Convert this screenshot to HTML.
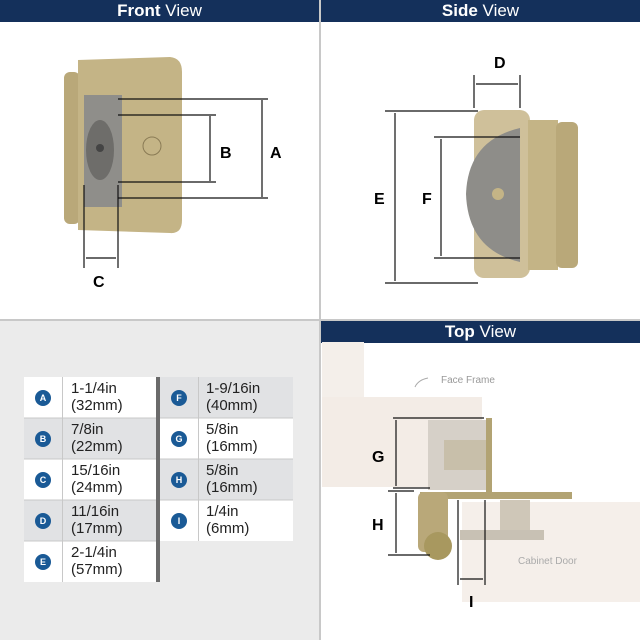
<!DOCTYPE html><html><head><style>
body{margin:0;width:640px;height:640px;overflow:hidden;background:#fff;font-family:"Liberation Sans",sans-serif;position:relative}
.h{position:absolute;height:22px;background:#14305b;color:#fff;font-size:17px;text-align:center;line-height:22px}
.h b{font-weight:bold}
.t{position:absolute;font-size:15px;line-height:17px;color:#222}
.c{position:absolute;width:16px;height:16px;border-radius:50%;background:#1a5a96;color:#fff;font-size:9px;font-weight:bold;text-align:center;line-height:16px}
</style></head><body>
<div style="position:absolute;left:0;top:320px;width:320px;height:320px;background:#ebebeb"></div>
<div style="position:absolute;left:319px;top:0;width:2px;height:640px;background:#c8c8c8"></div>
<div style="position:absolute;left:0;top:319px;width:640px;height:2px;background:#c8c8c8"></div>
<div class="h" style="left:0;top:0;width:319px"><b>Front</b> View</div>
<div class="h" style="left:321px;top:0;width:319px"><b>Side</b> View</div>
<div class="h" style="left:321px;top:321px;width:319px"><b>Top</b> View</div>

<svg width="640" height="640" style="position:absolute;left:0;top:0">
<!-- front view -->
<rect x="64" y="72" width="16" height="152" rx="6" fill="#b9a879"/>
<path d="M78 60 L170 57 Q182 58 182 72 L182 220 Q182 234 170 233 L78 230 Z" fill="#c4b486"/>
<rect x="84" y="95" width="38" height="112" fill="#8f8e8a"/>
<ellipse cx="100" cy="150" rx="14" ry="30" fill="#6e6d6a"/>
<circle cx="100" cy="148" r="4" fill="#444"/>
<circle cx="152" cy="146" r="9" fill="none" stroke="#8a7b55"/>
<g stroke="#111" stroke-width="1.2" fill="none">
<line x1="118" y1="99" x2="268" y2="99"/><line x1="118" y1="198" x2="268" y2="198"/>
<line x1="262" y1="100" x2="262" y2="197"/>
<line x1="118" y1="115" x2="216" y2="115"/><line x1="118" y1="182" x2="216" y2="182"/>
<line x1="210" y1="116" x2="210" y2="181"/>
<line x1="84" y1="185" x2="84" y2="268"/><line x1="118" y1="185" x2="118" y2="268"/>
<line x1="86" y1="258" x2="116" y2="258"/>
</g>
<text x="220" y="158" font-size="16" font-weight="bold" font-family="Liberation Sans">B</text>
<text x="270" y="158" font-size="16" font-weight="bold" font-family="Liberation Sans">A</text>
<text x="93" y="287" font-size="16" font-weight="bold" font-family="Liberation Sans">C</text>
<!-- side view -->
<rect x="474" y="110" width="56" height="168" rx="10" fill="#cfc09a"/>
<rect x="528" y="120" width="30" height="150" fill="#c4b486"/>
<rect x="556" y="122" width="22" height="146" rx="6" fill="#b9a879"/>
<path d="M520 128 Q468 140 466 194 Q468 250 520 262 Z" fill="#8e8d89"/>
<circle cx="498" cy="194" r="6" fill="#c4b486"/>
<g stroke="#111" stroke-width="1.2" fill="none">
<line x1="474" y1="75" x2="474" y2="108"/><line x1="520" y1="75" x2="520" y2="108"/>
<line x1="476" y1="84" x2="518" y2="84"/>
<line x1="385" y1="111" x2="478" y2="111"/><line x1="385" y1="283" x2="478" y2="283"/>
<line x1="395" y1="113" x2="395" y2="281"/>
<line x1="434" y1="137" x2="520" y2="137"/><line x1="434" y1="258" x2="520" y2="258"/>
<line x1="441" y1="139" x2="441" y2="256"/>
</g>
<text x="494" y="68" font-size="16" font-weight="bold" font-family="Liberation Sans">D</text>
<text x="374" y="204" font-size="16" font-weight="bold" font-family="Liberation Sans">E</text>
<text x="422" y="204" font-size="16" font-weight="bold" font-family="Liberation Sans">F</text>
<!-- top view -->
<rect x="322" y="342" width="42" height="56" fill="#f4efea"/>
<rect x="322" y="397" width="160" height="90" fill="#f3ece6"/>
<rect x="462" y="502" width="178" height="100" fill="#f5efea"/>
<rect x="428" y="420" width="58" height="70" fill="#d6d0c8"/>
<rect x="444" y="440" width="42" height="30" fill="#c8bfaa"/>
<rect x="486" y="418" width="6" height="76" fill="#b2a373"/>
<rect x="420" y="492" width="152" height="7" fill="#b2a373"/>
<rect x="418" y="492" width="30" height="60" rx="6" fill="#b9a879"/>
<circle cx="438" cy="546" r="14" fill="#a8985f"/>
<rect x="500" y="500" width="30" height="30" fill="#cfc7b8"/>
<rect x="460" y="530" width="84" height="10" fill="#c8c1b4"/>
<g stroke="#111" stroke-width="1.2" fill="none">
<line x1="393" y1="418" x2="484" y2="418"/><line x1="393" y1="488" x2="430" y2="488"/>
<line x1="396" y1="420" x2="396" y2="486"/>
<line x1="388" y1="491" x2="414" y2="491"/><line x1="388" y1="555" x2="430" y2="555"/>
<line x1="396" y1="493" x2="396" y2="553"/>
<line x1="458" y1="500" x2="458" y2="585"/><line x1="485" y1="500" x2="485" y2="585"/>
<line x1="460" y1="579" x2="483" y2="579"/>
</g>
<path d="M428 378 Q418 380 415 387" stroke="#aaa" fill="none"/>
<text x="441" y="383" font-size="10" fill="#999" font-family="Liberation Sans">Face Frame</text>
<text x="518" y="564" font-size="10" fill="#aaa" font-family="Liberation Sans">Cabinet Door</text>
<text x="372" y="462" font-size="16" font-weight="bold" font-family="Liberation Sans">G</text>
<text x="372" y="530" font-size="16" font-weight="bold" font-family="Liberation Sans">H</text>
<text x="469" y="607" font-size="16" font-weight="bold" font-family="Liberation Sans">I</text>
<!-- table -->
<rect x="24" y="377" width="133" height="205" fill="#fff"/>
<rect x="160" y="377" width="133" height="164" fill="#fff"/>
<rect x="24" y="418" width="133" height="41" fill="#e1e2e4"/>
<rect x="24" y="500" width="133" height="41" fill="#e1e2e4"/>
<rect x="160" y="377" width="133" height="41" fill="#e1e2e4"/>
<rect x="160" y="459" width="133" height="41" fill="#e1e2e4"/>
<g stroke="#c8c8c8"><line x1="24" y1="418" x2="157" y2="418"/><line x1="24" y1="459" x2="157" y2="459"/><line x1="24" y1="500" x2="157" y2="500"/><line x1="24" y1="541" x2="157" y2="541"/>
<line x1="160" y1="418" x2="293" y2="418"/><line x1="160" y1="459" x2="293" y2="459"/><line x1="160" y1="500" x2="293" y2="500"/>
<line x1="62.5" y1="377" x2="62.5" y2="582"/><line x1="198.5" y1="377" x2="198.5" y2="541"/></g>
<rect x="156" y="377" width="4" height="205" fill="#6b6b6b"/>
</svg>
<div class="c" style="left:35px;top:390px">A</div><div class="t" style="left:71px;top:380px">1-1/4in<br>(32mm)</div>
<div class="c" style="left:35px;top:431px">B</div><div class="t" style="left:71px;top:421px">7/8in<br>(22mm)</div>
<div class="c" style="left:35px;top:472px">C</div><div class="t" style="left:71px;top:462px">15/16in<br>(24mm)</div>
<div class="c" style="left:35px;top:513px">D</div><div class="t" style="left:71px;top:503px">11/16in<br>(17mm)</div>
<div class="c" style="left:35px;top:554px">E</div><div class="t" style="left:71px;top:544px">2-1/4in<br>(57mm)</div>
<div class="c" style="left:171px;top:390px">F</div><div class="t" style="left:206px;top:380px">1-9/16in<br>(40mm)</div>
<div class="c" style="left:171px;top:431px">G</div><div class="t" style="left:206px;top:421px">5/8in<br>(16mm)</div>
<div class="c" style="left:171px;top:472px">H</div><div class="t" style="left:206px;top:462px">5/8in<br>(16mm)</div>
<div class="c" style="left:171px;top:513px">I</div><div class="t" style="left:206px;top:503px">1/4in<br>(6mm)</div>
</body></html>
